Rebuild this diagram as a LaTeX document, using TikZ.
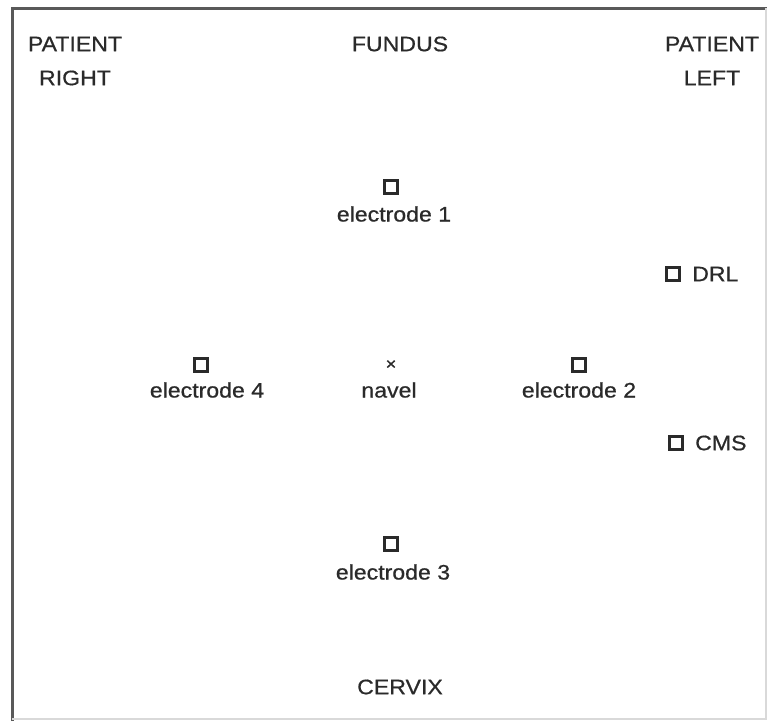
\documentclass[tikz,border=0pt]{standalone}
\usepackage{fontspec}
\setmainfont[FakeStretch=1.1,FakeBold=0.6]{Liberation Sans}
\definecolor{ink}{HTML}{2A2A2A}
\begin{document}
\begin{tikzpicture}[x=1pt,y=-1pt,
  lbl/.style={font=\fontsize{21}{25}\selectfont, text=ink, inner sep=0pt},
  pad/.style={draw=ink, line width=2.3pt, minimum size=13pt, inner sep=0pt},
  mark cross/.style={font=\fontsize{17}{19}\selectfont, text=ink, inner sep=0pt}]
\useasboundingbox (0,0) rectangle (767,721);
\fill[white] (0,0) rectangle (767,721);
% frame
\draw[draw=black!65, line width=3pt] (12,721) -- (12,8) -- (767,8);
\draw[draw=black!15, line width=2pt] (12,719) -- (766,719) -- (766,8);
% orientation labels
\node[lbl] (pr1) at (75,44) {PATIENT};
\node[lbl] (pr2) at (75,78) {RIGHT};
\node[lbl] (fundus) at (400,44) {FUNDUS};
\node[lbl] (pl1) at (712,44) {PATIENT};
\node[lbl] (pl2) at (712,78) {LEFT};
\node[lbl] (cervix) at (400,687) {CERVIX};
% electrodes
\node[pad] (e1) at (391,187) {};
\node[lbl] (e1l) at (394,214) {electrode 1};
\node[pad] (e4) at (201,365) {};
\node[lbl] (e4l) at (207,390) {electrode 4};
\node[mark cross] (nav) at (391,365) {×};
\node[lbl] (navl) at (389,390) {navel};
\node[pad] (e2) at (579,365) {};
\node[lbl] (e2l) at (579,390) {electrode 2};
\node[pad] (e3) at (391,544) {};
\node[lbl] (e3l) at (393,572) {electrode 3};
\node[pad] (drl) at (673,274) {};
\node[lbl,anchor=west] (drll) at (692,274) {DRL};
\node[pad] (cms) at (676,443) {};
\node[lbl,anchor=west] (cmsl) at (695,443) {CMS};
\end{tikzpicture}
\end{document}
